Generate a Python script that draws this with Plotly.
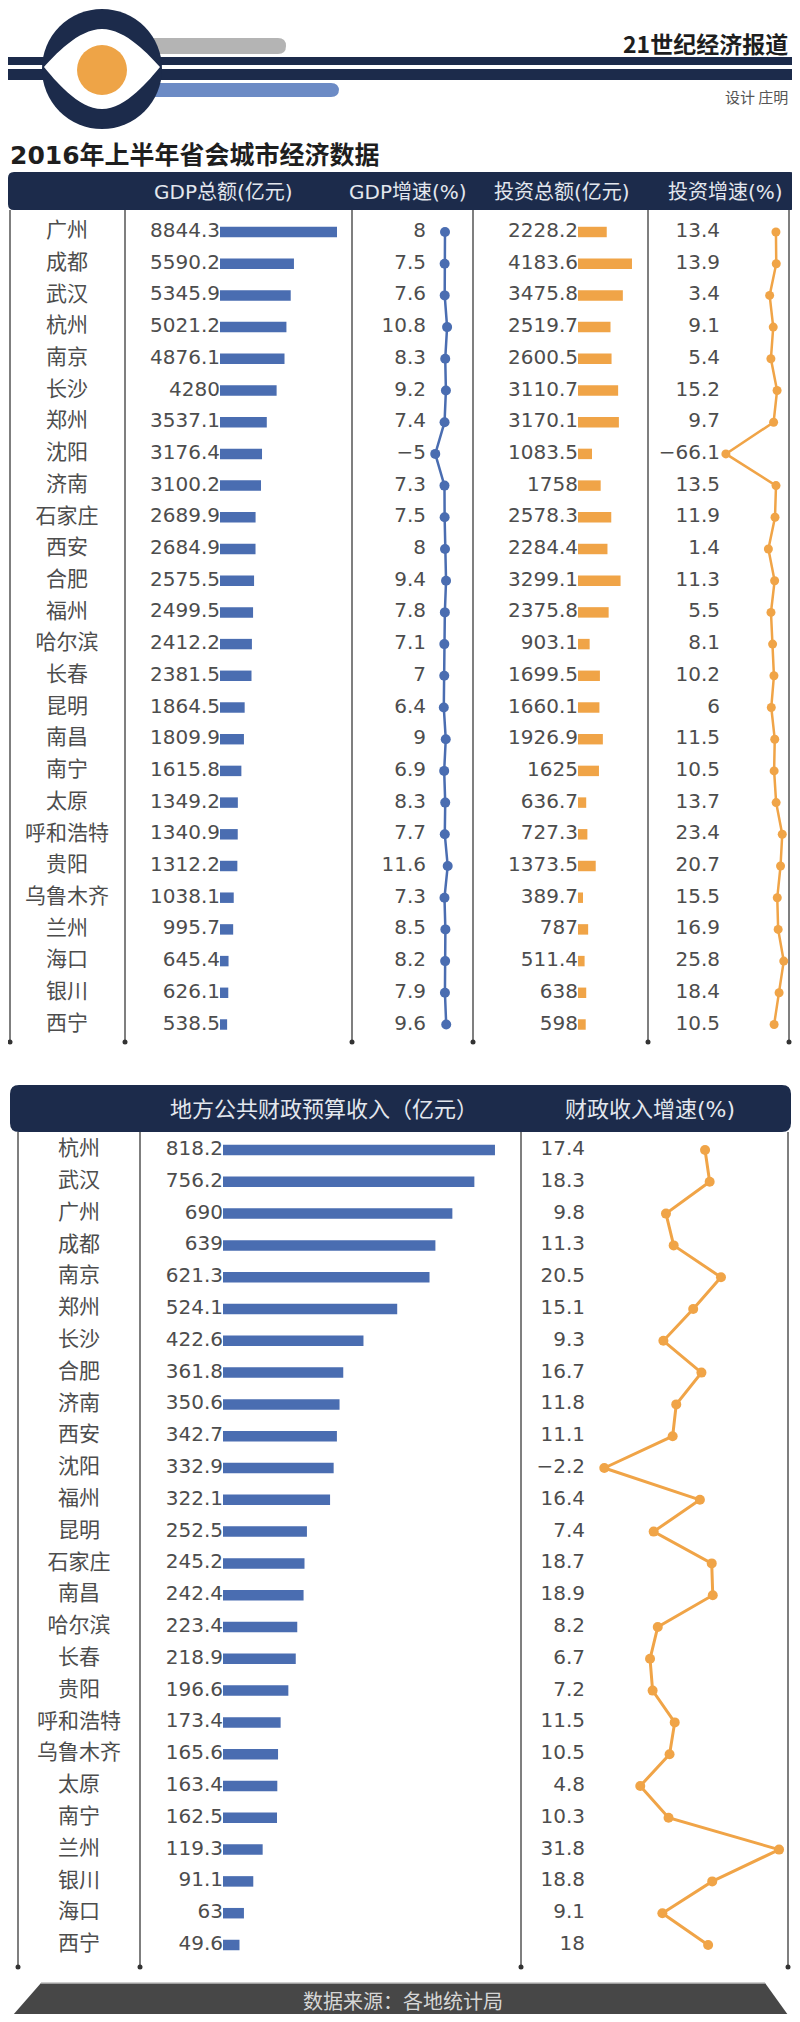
import plotly.graph_objects as go

W, H = 800, 2022
# the page body has an 8px margin, so the figure sits at (8, 8) and spans W-16 x H-16
OFF = 8
FW, FH = W - 2 * OFF, H - 2 * OFF

# ---- data: table 1 (2016 H1) ----
cities1 = ["广州", "成都", "武汉", "杭州", "南京", "长沙", "郑州", "沈阳", "济南", "石家庄",
           "西安", "合肥", "福州", "哈尔滨", "长春", "昆明", "南昌", "南宁", "太原", "呼和浩特",
           "贵阳", "乌鲁木齐", "兰州", "海口", "银川", "西宁"]
gdp = [8844.3, 5590.2, 5345.9, 5021.2, 4876.1, 4280, 3537.1, 3176.4, 3100.2, 2689.9,
       2684.9, 2575.5, 2499.5, 2412.2, 2381.5, 1864.5, 1809.9, 1615.8, 1349.2, 1340.9,
       1312.2, 1038.1, 995.7, 645.4, 626.1, 538.5]
gdp_growth = [8, 7.5, 7.6, 10.8, 8.3, 9.2, 7.4, -5, 7.3, 7.5,
              8, 9.4, 7.8, 7.1, 7, 6.4, 9, 6.9, 8.3, 7.7,
              11.6, 7.3, 8.5, 8.2, 7.9, 9.6]
invest = [2228.2, 4183.6, 3475.8, 2519.7, 2600.5, 3110.7, 3170.1, 1083.5, 1758, 2578.3,
          2284.4, 3299.1, 2375.8, 903.1, 1699.5, 1660.1, 1926.9, 1625, 636.7, 727.3,
          1373.5, 389.7, 787, 511.4, 638, 598]
invest_growth = [13.4, 13.9, 3.4, 9.1, 5.4, 15.2, 9.7, -66.1, 13.5, 11.9,
                 1.4, 11.3, 5.5, 8.1, 10.2, 6, 11.5, 10.5, 13.7, 23.4,
                 20.7, 15.5, 16.9, 25.8, 18.4, 10.5]

# ---- data: table 2 (fiscal revenue) ----
cities2 = ["杭州", "武汉", "广州", "成都", "南京", "郑州", "长沙", "合肥", "济南", "西安",
           "沈阳", "福州", "昆明", "石家庄", "南昌", "哈尔滨", "长春", "贵阳", "呼和浩特", "乌鲁木齐",
           "太原", "南宁", "兰州", "银川", "海口", "西宁"]
revenue = [818.2, 756.2, 690, 639, 621.3, 524.1, 422.6, 361.8, 350.6, 342.7,
           332.9, 322.1, 252.5, 245.2, 242.4, 223.4, 218.9, 196.6, 173.4, 165.6,
           163.4, 162.5, 119.3, 91.1, 63, 49.6]
revenue_growth = [17.4, 18.3, 9.8, 11.3, 20.5, 15.1, 9.3, 16.7, 11.8, 11.1,
                  -2.2, 16.4, 7.4, 18.7, 18.9, 8.2, 6.7, 7.2, 11.5, 10.5,
                  4.8, 10.3, 31.8, 18.8, 9.1, 18]

headers1 = ["GDP总额(亿元)", "GDP增速(%)", "投资总额(亿元)", "投资增速(%)"]
headers2 = ["地方公共财政预算收入（亿元）", "财政收入增速(%)"]

BLUE = "#4a6db1"
ORANGE = "#f0a447"
NAVY = "#1c2b4b"
TEXT = "#4d4d4d"
GRID = "#555555"
NUM = "DejaVu Sans, Noto Sans CJK SC, sans-serif"
CJK = "Noto Sans CJK SC, sans-serif"


# page pixel -> paper coordinate
def px(x):
    return (x - OFF) / FW


def py(y):
    return 1 - (y - OFF) / FH


def fmt(v):
    return f"{v:g}".replace("-", "−")


def xrange_for(d0, d1, a, b):
    # pixel domain [d0, d1], value v drawn at a + b*v
    return [(d0 - a) / b, (d1 - a) / b]


def rows_range(first, step, top, bottom):
    return [(bottom - first) / step, (top - first) / step]


def P(x, y):
    return f"{px(x)},{py(y)}"


def rrect(x0, y0, x1, y1, r):
    return (f"M {P(x0 + r, y0)} L {P(x1 - r, y0)} Q {P(x1, y0)} {P(x1, y0 + r)} "
            f"L {P(x1, y1 - r)} Q {P(x1, y1)} {P(x1 - r, y1)} L {P(x0 + r, y1)} "
            f"Q {P(x0, y1)} {P(x0, y1 - r)} L {P(x0, y0 + r)} Q {P(x0, y0)} {P(x0 + r, y0)} Z")


fig = go.Figure()
n1 = len(cities1)
n2 = len(cities2)
r1 = list(range(n1))
r2 = list(range(n2))

# ---------------- table 1 ----------------
fig.add_trace(go.Scatter(x=[67] * n1, y=r1, mode="text", text=cities1, textposition="middle center",
                         textfont=dict(size=21, color=TEXT, family=CJK), xaxis="x", yaxis="y"))
fig.add_trace(go.Bar(x=gdp, y=r1, orientation="h", width=0.33, marker=dict(color=BLUE, line_width=0),
                     xaxis="x2", yaxis="y"))
fig.add_trace(go.Scatter(x=[0] * n1, y=r1, mode="text", text=[fmt(v) for v in gdp], textposition="middle left",
                         textfont=dict(size=20, color=TEXT, family=NUM), xaxis="x2", yaxis="y", cliponaxis=False))
fig.add_trace(go.Scatter(x=[426] * n1, y=r1, mode="text", text=[fmt(v) for v in gdp_growth],
                         textposition="middle left", textfont=dict(size=20, color=TEXT, family=NUM),
                         xaxis="x", yaxis="y"))
fig.add_trace(go.Scatter(x=gdp_growth, y=r1, mode="lines+markers", line=dict(color=BLUE, width=2.5),
                         marker=dict(size=10, color=BLUE), xaxis="x3", yaxis="y", cliponaxis=False))
fig.add_trace(go.Bar(x=invest, y=r1, orientation="h", width=0.33, marker=dict(color=ORANGE, line_width=0),
                     xaxis="x4", yaxis="y"))
fig.add_trace(go.Scatter(x=[0] * n1, y=r1, mode="text", text=[fmt(v) for v in invest], textposition="middle left",
                         textfont=dict(size=20, color=TEXT, family=NUM), xaxis="x4", yaxis="y", cliponaxis=False))
fig.add_trace(go.Scatter(x=[720] * n1, y=r1, mode="text", text=[fmt(v) for v in invest_growth],
                         textposition="middle left", textfont=dict(size=20, color=TEXT, family=NUM),
                         xaxis="x", yaxis="y"))
fig.add_trace(go.Scatter(x=invest_growth, y=r1, mode="lines+markers", line=dict(color=ORANGE, width=2.5),
                         marker=dict(size=9, color=ORANGE), xaxis="x5", yaxis="y", cliponaxis=False))

# ---------------- table 2 ----------------
fig.add_trace(go.Scatter(x=[79] * n2, y=r2, mode="text", text=cities2, textposition="middle center",
                         textfont=dict(size=21, color=TEXT, family=CJK), xaxis="x6", yaxis="y2"))
fig.add_trace(go.Bar(x=revenue, y=r2, orientation="h", width=0.33, marker=dict(color=BLUE, line_width=0),
                     xaxis="x7", yaxis="y2"))
fig.add_trace(go.Scatter(x=[0] * n2, y=r2, mode="text", text=[fmt(v) for v in revenue], textposition="middle left",
                         textfont=dict(size=20, color=TEXT, family=NUM), xaxis="x7", yaxis="y2", cliponaxis=False))
fig.add_trace(go.Scatter(x=[585] * n2, y=r2, mode="text", text=[fmt(v) for v in revenue_growth],
                         textposition="middle left", textfont=dict(size=20, color=TEXT, family=NUM),
                         xaxis="x6", yaxis="y2"))
fig.add_trace(go.Scatter(x=revenue_growth, y=r2, mode="lines+markers", line=dict(color=ORANGE, width=3),
                         marker=dict(size=10, color=ORANGE), xaxis="x8", yaxis="y2", cliponaxis=False))

hidden = dict(visible=False, showgrid=False, zeroline=False, fixedrange=True)

fig.update_layout(
    width=FW, height=FH, margin=dict(l=0, r=0, t=0, b=0, pad=0),
    paper_bgcolor="white", plot_bgcolor="rgba(0,0,0,0)",
    showlegend=False, hovermode=False,
    xaxis=dict(domain=[0, 1], range=[OFF, W - OFF], anchor="y", **hidden),
    yaxis=dict(domain=[py(1042), py(210)], range=rows_range(232, 31.7, 210, 1042), anchor="x", **hidden),
    xaxis2=dict(domain=[px(220), px(350)], range=[0, 130 / 0.013229], anchor="y", **hidden),
    xaxis3=dict(domain=[px(400), px(470)], range=xrange_for(400, 470, 439, 0.75), anchor="y", **hidden),
    xaxis4=dict(domain=[px(578), px(645)], range=[0, 67 / 0.0129], anchor="y", **hidden),
    xaxis5=dict(domain=[px(655), px(787)], range=xrange_for(655, 787, 767.5, 0.63), anchor="y", **hidden),
    yaxis2=dict(domain=[py(1967), py(1132)], range=rows_range(1150, 31.8, 1132, 1967), anchor="x6", **hidden),
    xaxis6=dict(domain=[0, 1], range=[OFF, W - OFF], anchor="y2", **hidden),
    xaxis7=dict(domain=[px(223), px(520)], range=[0, 297 / 0.3324], anchor="y2", **hidden),
    xaxis8=dict(domain=[px(525), px(785)], range=xrange_for(525, 785, 615.6, 5.14), anchor="y2", **hidden),
)

shapes = []


def rect(x0, y0, x1, y1, color, layer="above"):
    shapes.append(dict(type="rect", xref="paper", yref="paper", x0=px(x0), x1=px(x1), y0=py(y1), y1=py(y0),
                       fillcolor=color, line_width=0, layer=layer))


def circle(cx, cy, r, color):
    shapes.append(dict(type="circle", xref="paper", yref="paper", x0=px(cx - r), x1=px(cx + r),
                       y0=py(cy + r), y1=py(cy - r), fillcolor=color, line_width=0))


def path(d, color, layer="above"):
    shapes.append(dict(type="path", xref="paper", yref="paper", path=d, fillcolor=color, line_width=0, layer=layer))


# ---- logo ----
CX, CY, R = 102, 69, 60
path(rrect(CX, 38, 286, 54, 8), "#b4b4b4")
path(rrect(CX, 83, 339, 97, 8), "#6c8bc5")
rect(8, 57, 792, 65, NAVY)
rect(8, 69, 792, 80, NAVY)
circle(CX, CY, R, NAVY)
eye = (f"M {P(CX - 58, 67)} C {P(CX - 48, 56)} {P(CX - 24, 29)} {P(CX, 29)} "
       f"C {P(CX + 24, 29)} {P(CX + 48, 56)} {P(CX + 58, 67)} "
       f"C {P(CX + 48, 79)} {P(CX + 24, 109)} {P(CX, 109)} "
       f"C {P(CX - 24, 109)} {P(CX - 48, 79)} {P(CX - 58, 67)} Z")
path(eye, "white")
circle(CX, CY + 1, 25, "#eea447")

# ---- header bars ----
path(rrect(8, 172, 796, 210, 6), NAVY, layer="below")
path(rrect(10, 1085, 791, 1132, 9), NAVY, layer="below")


def vlines(xs, y0, y1):
    for x in xs:
        shapes.append(dict(type="line", xref="paper", yref="paper", x0=px(x), x1=px(x), y0=py(y1), y1=py(y0),
                           line=dict(color=GRID, width=1.5), layer="below"))
        circle(x, y1, 2.5, "#333333")


vlines([10, 125, 352, 473, 648, 789], 210, 1042)
vlines([18, 140, 521, 788], 1132, 1967)

# ---- footer ----
path(f"M {P(41, 1983)} L {P(765, 1983)} L {P(788, 2015)} L {P(13, 2015)} Z", "#474747")
shapes.append(dict(type="line", xref="paper", yref="paper", x0=px(41), x1=px(765), y0=py(1983), y1=py(1983),
                   line=dict(color="#bdbdbd", width=1.5)))

fig.update_layout(shapes=shapes)

ann = []


def text(x, y, s, size, color, anchor="center", family=CJK, bold=False):
    if bold:
        s = f"<b>{s}</b>"
    ann.append(dict(x=px(x), y=py(y), xref="paper", yref="paper", text=s, showarrow=False,
                    xanchor=anchor, yanchor="middle", font=dict(size=size, color=color, family=family)))


text(790, 43, "21世纪经济报道", 23, "#1e1e1e", anchor="right", bold=True)
text(790, 97, "设计 庄明", 15, "#555555", anchor="right")
text(8, 155, "2016年上半年省会城市经济数据", 25, "#1e1e1e", anchor="left", family=NUM, bold=True)

for s, cx in zip(headers1, [223, 408, 562, 725]):
    text(cx, 192, s, 20, "#e3e7ee", family=NUM)
for s, cx in zip(headers2, [324, 650]):
    text(cx, 1109, s, 22, "#e3e7ee", family=NUM)

text(403, 2000, "数据来源：各地统计局", 20, "#d6d6d6")

fig.update_layout(annotations=ann)

fig.write_html("out.html")
